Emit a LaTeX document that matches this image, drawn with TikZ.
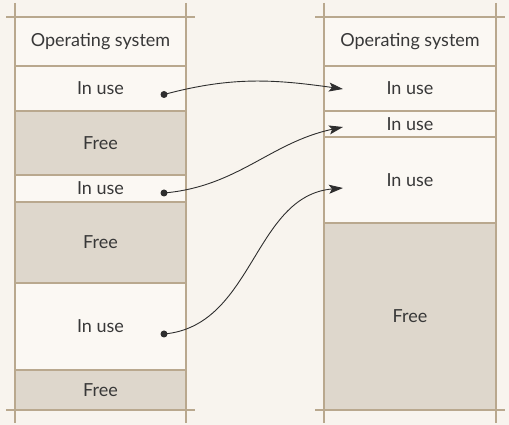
\documentclass[tikz,border=0pt]{standalone}
\usepackage{fontspec}
\setmainfont{Lato}
\usetikzlibrary{positioning,arrows.meta}

\definecolor{bgc}{HTML}{F8F4EE}
\definecolor{usedc}{HTML}{FBF8F3}
\definecolor{freec}{HTML}{DED7CC}
\definecolor{rulec}{HTML}{B9A88E}
\definecolor{textc}{HTML}{383838}
\definecolor{linkc}{HTML}{2E2E2E}

\tikzset{
  blk/.style={draw=rulec, line width=1.3pt, outer sep=0pt, inner sep=0pt,
    text=textc, font=\fontsize{18}{20}\selectfont},
  usedblk/.style={blk, fill=usedc},
  freeblk/.style={blk, fill=freec},
  frame/.style={draw=rulec, line width=1.3pt},
  dot/.style={circle, fill=linkc, inner sep=0pt, minimum size=7pt},
  link/.style={draw=linkc, line width=0.9pt,
    -{Stealth[length=14pt,width=9pt,inset=3pt]}}
}

\begin{document}
\begin{tikzpicture}[x=1pt, y=1pt]
  \useasboundingbox (0,0) rectangle (509,425);
  \fill[bgc] (0,0) rectangle (509,425);

  % memory before
  \begin{scope}[every node/.append style={minimum width=171pt}]
    \node[usedblk, minimum height=49pt] (los) at (100.5,383.5) {Operating system};
    \node[usedblk, minimum height=45pt, below=0pt of los] (lu1) {In use};
    \node[freeblk, minimum height=64pt, below=0pt of lu1] (lf1) {Free};
    \node[usedblk, minimum height=27pt, below=0pt of lf1] (lu2) {In use};
    \node[freeblk, minimum height=81pt, below=0pt of lu2] (lf2) {Free};
    \node[usedblk, minimum height=87pt, below=0pt of lf2] (lu3) {In use};
    \node[freeblk, minimum height=40pt, below=0pt of lu3] (lf3) {Free};
  \end{scope}

  % memory after
  \begin{scope}[every node/.append style={minimum width=172pt}]
    \node[usedblk, minimum height=49pt] (ros) at (410,383.5) {Operating system};
    \node[usedblk, minimum height=45pt, below=0pt of ros] (ru1) {In use};
    \node[usedblk, minimum height=26pt, below=0pt of ru1] (ru2) {In use};
    \node[usedblk, minimum height=86pt, below=0pt of ru2] (ru3) {In use};
    \node[freeblk, minimum height=187pt, below=0pt of ru3] (rf1) {Free};
  \end{scope}

  % column frames
  \foreach \top/\bot in {los/lf3, ros/rf1} {
    \draw[frame] ([yshift=14pt]\top.north west) -- ([yshift=-13pt]\bot.south west);
    \draw[frame] ([yshift=14pt]\top.north east) -- ([yshift=-13pt]\bot.south east);
    \draw[frame] ([xshift=-9pt]\top.north west) -- ([xshift=9pt]\top.north east);
    \draw[frame] ([xshift=-9pt]\bot.south west) -- ([xshift=9pt]\bot.south east);
  }

  % compaction moves
  \node[dot] (d1) at ([shift={(63.5,-6)}]lu1.center) {};
  \node[dot] (d2) at ([shift={(63.5,-4.5)}]lu2.center) {};
  \node[dot] (d3) at ([shift={(63.5,-7.5)}]lu3.center) {};
  \coordinate (t1) at ([shift={(-67,-0.5)}]ru1.center);
  \coordinate (t2) at ([shift={(-67,-3)}]ru2.center);
  \coordinate (t3) at ([shift={(-67,-8)}]ru3.center);

  \draw[link] (d1.center) to[out=15, in=172] (t1);
  \draw[link] (d2.center) to[out=5, in=192] (t2);
  \draw[link] (d3.center) to[out=5, in=185] (t3);
\end{tikzpicture}
\end{document}
